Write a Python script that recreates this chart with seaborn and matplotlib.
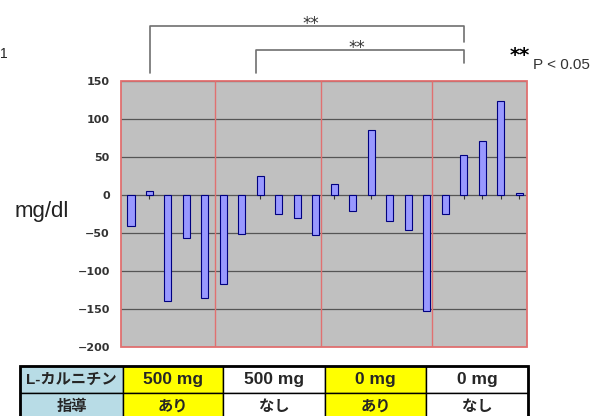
import matplotlib
matplotlib.use('Agg')
import matplotlib.pyplot as plt
import seaborn as sns
import pandas as pd
from matplotlib.lines import Line2D
from matplotlib.patches import Rectangle

# ---- data ----
bar_ids = [str(i) for i in range(1, 23)]
changes = [-41, 5, -139, -56, -136,
           -117, -51, 25, -25, -30, -52,
           15, -21, 86, -34, -46, -152,
           -25, 53, 71, 124, 3]
y_ticks = [-200, -150, -100, -50, 0, 50, 100, 150]
table_header = ['L-カルニチン', '指導']
carnitine_labels = ['500 mg', '500 mg', '0 mg', '0 mg']
guidance_labels = ['あり', 'なし', 'あり', 'なし']
sig_label = '**'
p_label = 'P < 0.05'
unit_label = 'mg/dl'

# ---- layout ----
W, H = 602, 416
sns.set_theme(style='white')
plt.rcParams['font.family'] = ['DejaVu Sans', 'Noto Sans CJK JP']

fig = plt.figure(figsize=(W / 100, H / 100), dpi=100)
fig.patch.set_facecolor('white')


def fx(x):
    return x / W


def fy(y):
    return 1 - y / H


ax = fig.add_axes([fx(121), fy(347), (527 - 121) / W, (347 - 81) / H])
df = pd.DataFrame({'id': bar_ids, 'change': changes})
sns.barplot(data=df, x='id', y='change', ax=ax, color='#9999FF',
            edgecolor='#000080', linewidth=0.8, width=0.38, saturation=1,
            errorbar=None, zorder=3)

ax.set_xlim(-0.54, 21.41)
ax.set_ylim(-200, 150)
ax.set_yticks(y_ticks)
ax.set_xlabel('')
ax.set_ylabel('')
ax.set_facecolor('#C0C0C0')
ax.grid(axis='y', color='#555555', lw=0.9)
ax.grid(axis='x', visible=False)
ax.set_axisbelow(True)
for s in ax.spines.values():
    s.set_visible(False)
ax.spines['bottom'].set_position(('data', 0))
ax.tick_params(axis='x', length=3, width=0.8, color='#333333',
               direction='out', labelbottom=False, bottom=True)
ax.tick_params(axis='y', length=0, pad=8, labelsize=8, labelcolor='#333333')
for t in ax.get_yticklabels():
    t.set_fontweight('bold')

red = '#E07070'
ax.add_patch(Rectangle((0, 0), 1, 1, transform=ax.transAxes, fill=False,
                       ec=red, lw=1.3, clip_on=False, zorder=6))
group_bounds = [4.55, 10.25, 16.27]
for b in group_bounds:
    ax.axvline(b, color=red, lw=1.0, zorder=5)

# ---- annotations ----
gray = '#707070'


def fig_line(pts):
    xs = [fx(p[0]) for p in pts]
    ys = [fy(p[1]) for p in pts]
    fig.add_artist(Line2D(xs, ys, transform=fig.transFigure, color=gray, lw=1.2))


fig_line([(150, 73), (150, 26), (464, 26), (464, 42)])
fig_line([(256, 73), (256, 50), (464, 50), (464, 63)])
fig.text(fx(311), fy(28.5), sig_label, ha='center', va='baseline',
         fontsize=12, color='#333333', family='DejaVu Sans')
fig.text(fx(357), fy(53.5), sig_label, ha='center', va='baseline',
         fontsize=12, color='#333333', family='DejaVu Sans')
fig.text(fx(520), fy(61), sig_label, ha='center', va='baseline',
         fontsize=14, fontweight='bold', color='black', family='DejaVu Sans')
fig.text(fx(533), fy(69), p_label, ha='left', va='baseline',
         fontsize=11, color='#333333', family='Liberation Sans')
fig.text(fx(15), fy(216.5), unit_label, ha='left', va='baseline',
         fontsize=16, color='#222222', family='Liberation Sans')
fig.text(fx(0), fy(58), '1', ha='left', va='baseline', fontsize=10,
         color='#222222', family='Liberation Sans')

# ---- table ----
ax_t = fig.add_axes([fx(20), fy(420), 508 / W, 54 / H])
ax_t.axis('off')
cells = [[table_header[0]] + carnitine_labels,
         [table_header[1]] + guidance_labels]
head_col = '#B8DCE6'
yellow = '#FFFF00'
colours = [[head_col, yellow, 'white', yellow, 'white'],
           [head_col, yellow, 'white', yellow, 'white']]
widths = [103, 100, 102, 101, 102]
tot = sum(widths)
tbl = ax_t.table(cellText=cells, cellColours=colours,
                 colWidths=[w / tot for w in widths], cellLoc='center',
                 bbox=[0, 0, 1, 1])
tbl.auto_set_font_size(False)
for (r, c), cell in tbl.get_celld().items():
    cell.set_edgecolor('black')
    cell.set_linewidth(1.0)
    txt = cell.get_text()
    txt.set_fontfamily(['Liberation Sans', 'Noto Sans CJK JP'])
    txt.set_fontweight('bold')
    if r == 0 and c == 0:
        txt.set_fontsize(11)
    elif r == 1:
        txt.set_fontsize(11)
    else:
        txt.set_fontsize(12.5)
ax_t.add_patch(Rectangle((0, 0), 1, 1, transform=ax_t.transAxes, fill=False,
                         ec='black', lw=2, clip_on=False, zorder=10))

fig.savefig('out.png', dpi=100, facecolor='white')
